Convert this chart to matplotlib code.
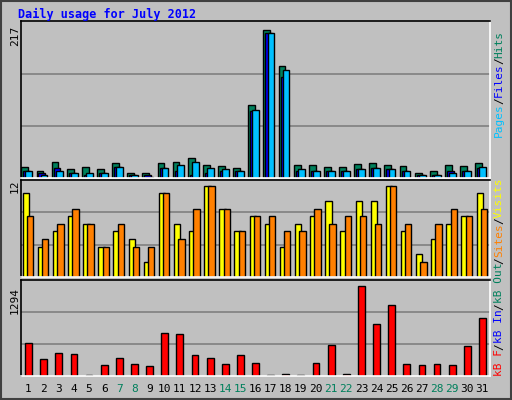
import matplotlib
matplotlib.use("Agg")
import matplotlib.pyplot as plt
import numpy as np

days = list(range(1, 32))
hits = [16,11,23,13,16,13,22,8,7,22,23,29,19,17,14,107,217,165,19,19,16,16,20,22,19,17,7,10,19,17,22]
files = [10,7,14,7,5,7,16,5,4,14,10,4,7,11,10,98,213,149,10,10,10,10,13,14,13,10,4,5,10,11,14]
pages = [11,5,10,8,8,8,16,5,2,14,19,23,14,13,10,100,213,159,13,10,11,10,13,14,13,10,4,5,8,11,16]
visits = [11,4,6,8,7,4,6,5,2,11,7,6,12,9,6,8,7,4,7,8,10,6,10,10,12,6,3,5,7,8,11]
sites = [8,5,7,9,7,4,7,4,4,11,5,9,12,9,6,8,8,6,6,9,7,8,8,7,12,7,2,7,9,8,9]
kbytes = [469,242,327,313,10,156,256,171,142,611,597,299,256,171,299,185,10,28,10,185,441,28,1294,739,1024,171,156,171,156,427,825]
weekends = [7,8,14,15,21,22,28,29]

W, H = 512, 400
BG = "#C0C0C0"
fig = plt.figure(figsize=(W/100, H/100), dpi=100, facecolor=BG)
mono = "DejaVu Sans Mono"

def ax_px(x0, y0, x1, y1):
    return fig.add_axes([x0/W, 1-y1/H, (x1-x0)/W, (y1-y0)/H])

def style(ax, ymax):
    ax.set_facecolor(BG)
    ax.set_xlim(0.5, 31.5)
    ax.set_ylim(0, ymax)
    ax.set_xticks([]); ax.set_yticks([])
    for s in ["left", "top"]:
        ax.spines[s].set_color("black")
    for s in ["right", "bottom"]:
        ax.spines[s].set_color("white")
    for sp in ax.spines.values():
        sp.set_linewidth(1.2)
    for f in (1/3, 2/3):
        ax.axhline(ymax*f*1.0, color="#808080", lw=1.2, zorder=0)

x = np.array(days)
ek = dict(edgecolor="black", linewidth=1)

a1 = ax_px(21, 21, 490, 178)
style(a1, 217/0.95)
a1.set_ylim(0, 217/0.94)
a1.bar(x-0.25, hits, width=0.45, color="#00805C", align="center", **ek)
a1.bar(x-0.12, files, width=0.45, color="#0000FF", **ek)
a1.bar(x+0.02, pages, width=0.45, color="#00C0FF", **ek)

a2 = ax_px(21, 180, 490, 277)
style(a2, 12/0.94)
a2.bar(x-0.18, visits, width=0.42, color="#FFFF00", **ek)
a2.bar(x+0.1, sites, width=0.42, color="#FF8000", **ek)

a3 = ax_px(21, 280, 490, 376)
style(a3, 1294/0.94)
a3.bar(x, kbytes, width=0.45, color="#FF0000", **ek)

fig.text(18/W, 1-14/H, "Daily usage for July 2012", color="#0000FF", fontsize=8.5,
         fontweight="bold", family=mono, va="center", ha="left")
for lab, y in [("217", 36), ("12", 186), ("1294", 300)]:
    fig.text(15/W, 1-y/H, lab, rotation=90, fontsize=8, family=mono, va="center", ha="center")

for d in days:
    fig.text((21 + (d-0.5)*469/31)/W, 1-389/H, str(d), fontsize=8, family=mono,
             color="#00805C" if d in weekends else "black", ha="center", va="center")

cw = 6.6
def vlegend(parts, ybottom):
    y = ybottom
    for txt, col in parts:
        fig.text(499/W, 1-y/H, txt, rotation=90, fontsize=8, family=mono, color=col,
                 ha="center", va="bottom")
        y -= cw*len(txt)

vlegend([("Pages", "#00C0FF"), ("/", "black"), ("Files", "#0000FF"), ("/", "black"), ("Hits", "#00805C")], 137)
vlegend([("kB F", "#FF0000"), ("/", "black"), ("kB In", "#0000FF"), ("/", "black"),
         ("kB Out", "#00805C"), ("/", "black"), ("Sites", "#FF8000"), ("/", "black"), ("Visits", "#FFFF00")], 376)

fig.patches.append(plt.Rectangle((1/W, 1/H), 1-2/W, 1-2/H, transform=fig.transFigure,
                                 fill=False, edgecolor="#404040", lw=1.5))
fig.savefig("out.png", dpi=100, facecolor=BG)
